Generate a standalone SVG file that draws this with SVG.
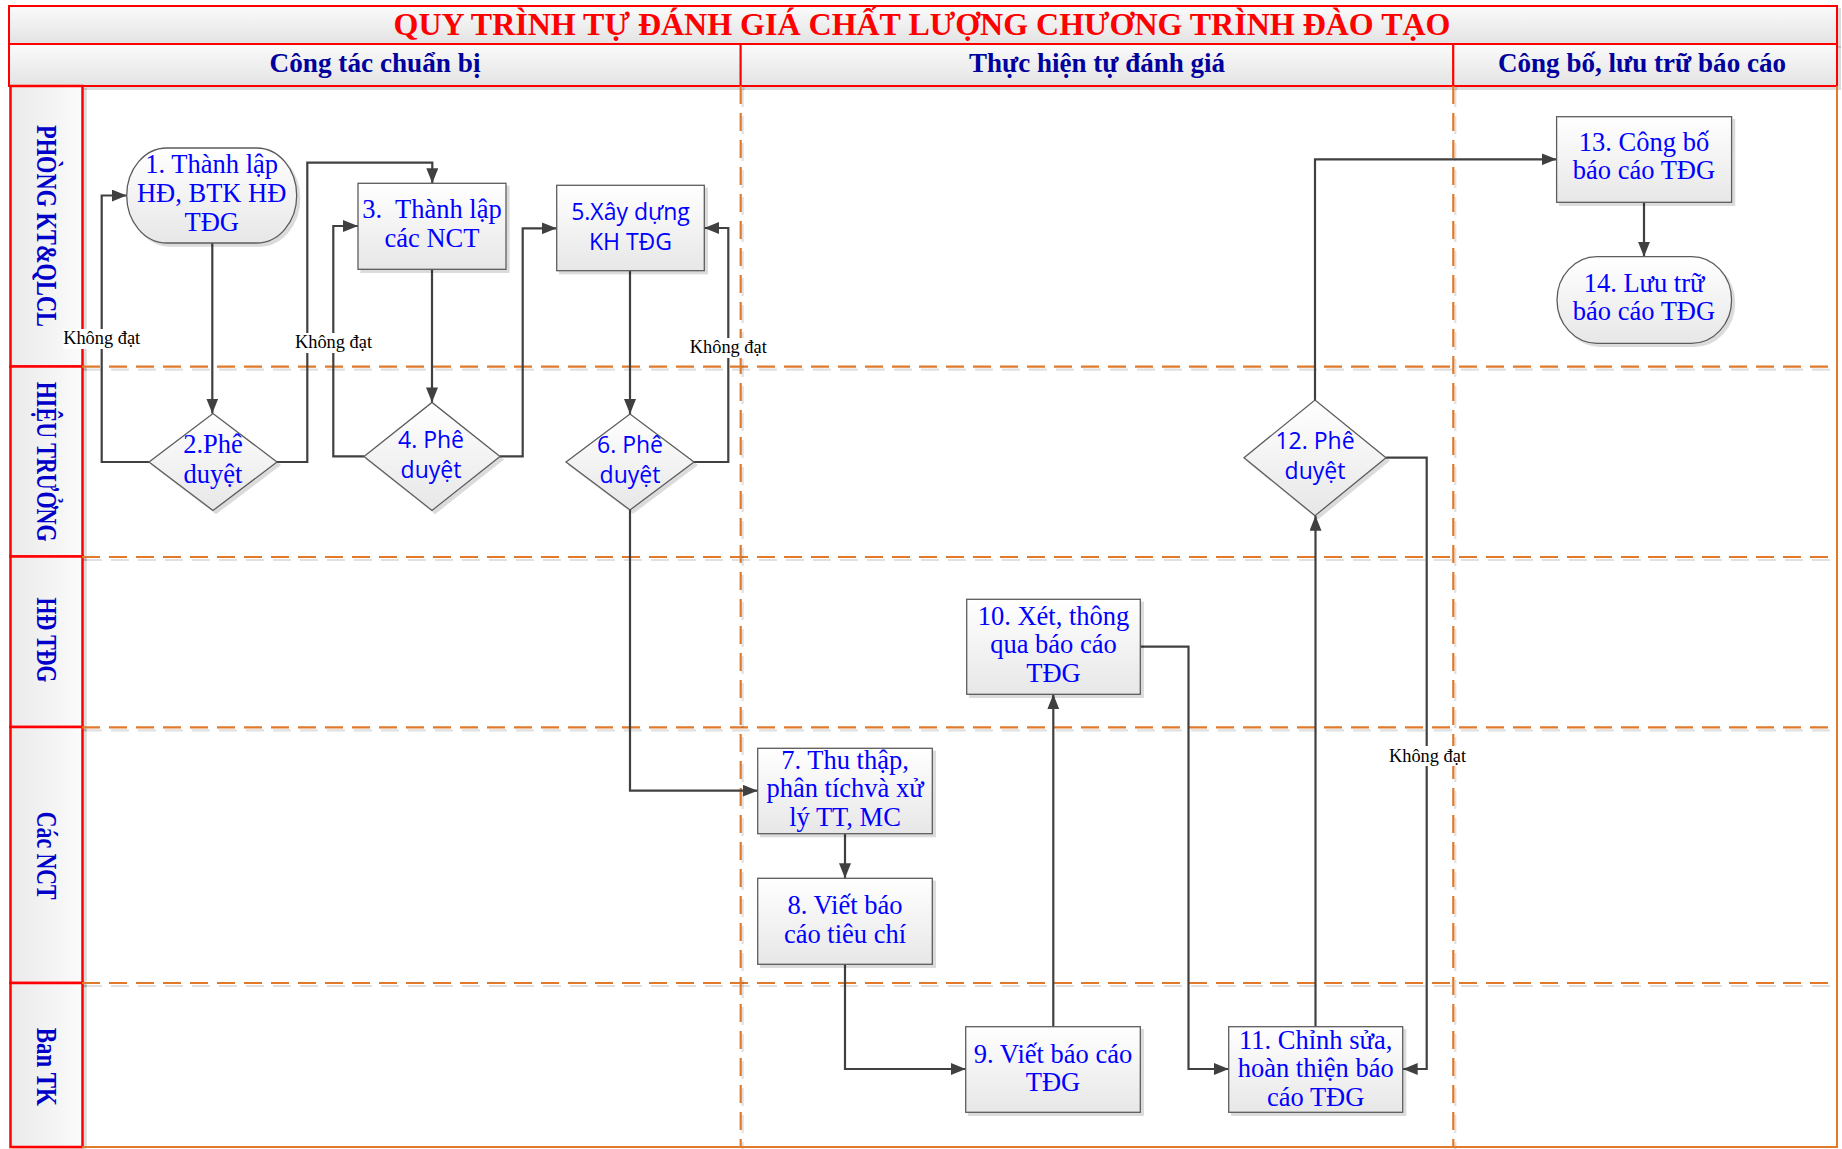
<svg xmlns="http://www.w3.org/2000/svg" width="1842" height="1149" viewBox="0 0 1842 1149">
<defs>
  <linearGradient id="gNode" x1="0" y1="0" x2="0" y2="1"><stop offset="0" stop-color="#ffffff"/><stop offset="1" stop-color="#e7e7e7"/></linearGradient>
  <linearGradient id="gHead" x1="0" y1="0" x2="0" y2="1"><stop offset="0" stop-color="#fbfbfb"/><stop offset="1" stop-color="#e3e3e3"/></linearGradient>
  <linearGradient id="gLane" x1="0" y1="0" x2="1" y2="0"><stop offset="0" stop-color="#eaeaea"/><stop offset="1" stop-color="#fbfbfb"/></linearGradient>
  <filter id="sh" x="-10%" y="-10%" width="130%" height="130%">
    <feOffset in="SourceAlpha" dx="3" dy="3" result="o"/>
    <feFlood flood-color="#000" flood-opacity="0.14"/>
    <feComposite in2="o" operator="in"/>
    <feMerge><feMergeNode/><feMergeNode in="SourceGraphic"/></feMerge>
  </filter>
  <filter id="lsh" filterUnits="userSpaceOnUse" x="0" y="0" width="1842" height="1149">
    <feOffset in="SourceAlpha" dx="2" dy="3" result="o"/>
    <feFlood flood-color="#000" flood-opacity="0.12"/>
    <feComposite in2="o" operator="in"/>
    <feMerge><feMergeNode/><feMergeNode in="SourceGraphic"/></feMerge>
  </filter>
  <marker id="ah" viewBox="0 0 15 12" refX="15" refY="6" markerWidth="15" markerHeight="12" markerUnits="userSpaceOnUse" orient="auto">
    <path d="M0,0 L15,6 L0,12 z" fill="#404040"/>
  </marker>
</defs>
<style>
  .t{font-family:"Liberation Serif","Times New Roman",serif;font-size:26.5px;fill:#0000ff;text-anchor:middle}
  .s{font-family:"Open Sans","Noto Sans",sans-serif;font-size:23px;fill:#0000ff;text-anchor:middle}
  .box{fill:url(#gNode);stroke:#5c5c5c;stroke-width:1.3;filter:url(#sh)}
  .conn{fill:none;stroke:#404040;stroke-width:2.2;marker-end:url(#ah)}
  .lbl{font-family:"Liberation Serif","Times New Roman",serif;font-size:18px;fill:#000;text-anchor:middle}
  .lblbg{fill:#ffffff}
  .dash{stroke:#e07a2c;stroke-width:2.2;stroke-dasharray:18 9;fill:none;filter:url(#lsh)}
  .frame{stroke:#e07a2c;stroke-width:2;fill:none}
  .cell{fill:url(#gHead);stroke:#ff0000;stroke-width:2;filter:url(#sh)}
  .lanebox{fill:url(#gLane);stroke:#ff0000;stroke-width:2.5;filter:url(#sh)}
  .ttl{font-family:"Liberation Serif","Times New Roman",serif;font-weight:bold;font-size:31px;fill:#ff0000;text-anchor:middle}
  .hd{font-family:"Liberation Serif","Times New Roman",serif;font-weight:bold;font-size:27px;fill:#00009c;text-anchor:middle}
  .ll{font-family:"Liberation Serif","Times New Roman",serif;font-weight:bold;font-size:30px;fill:#0000c8;text-anchor:middle}
</style>
<rect x="0" y="0" width="1842" height="1149" fill="#ffffff"/>

<g id="header">
  <rect class="cell" x="9" y="6" width="1828" height="38"/>
  <text class="ttl" x="922" y="34.5" textLength="1057" lengthAdjust="spacingAndGlyphs">QUY TRÌNH TỰ ĐÁNH GIÁ CHẤT LƯỢNG CHƯƠNG TRÌNH ĐÀO TẠO</text>
  <rect class="cell" x="9" y="44" width="731.7" height="42"/>
  <rect class="cell" x="740.7" y="44" width="712.6" height="42"/>
  <rect class="cell" x="1453.3" y="44" width="383.7" height="42"/>
  <text class="hd" x="375" y="72" textLength="211" lengthAdjust="spacingAndGlyphs">Công tác chuẩn bị</text>
  <text class="hd" x="1097" y="72" textLength="256" lengthAdjust="spacingAndGlyphs">Thực hiện tự đánh giá</text>
  <text class="hd" x="1642" y="72" textLength="288" lengthAdjust="spacingAndGlyphs">Công bố, lưu trữ báo cáo</text>
</g>

<g id="lanes">
  <rect class="lanebox" x="10.5" y="86" width="72" height="280.5"/>
  <rect class="lanebox" x="10.5" y="366.5" width="72" height="190"/>
  <rect class="lanebox" x="10.5" y="556.5" width="72" height="170.5"/>
  <rect class="lanebox" x="10.5" y="727" width="72" height="256"/>
  <rect class="lanebox" x="10.5" y="983" width="72" height="164"/>
  <text class="ll" x="37" y="226" transform="rotate(90 37 226)" textLength="202" lengthAdjust="spacingAndGlyphs">PHÒNG KT&amp;QLCL</text>
  <text class="ll" x="37" y="461.7" transform="rotate(90 37 461.7)" textLength="160" lengthAdjust="spacingAndGlyphs">HIỆU TRƯỞNG</text>
  <text class="ll" x="37" y="640" transform="rotate(90 37 640)" textLength="85" lengthAdjust="spacingAndGlyphs">HĐ TĐG</text>
  <text class="ll" x="37" y="855.7" transform="rotate(90 37 855.7)" textLength="88" lengthAdjust="spacingAndGlyphs">Các NCT</text>
  <text class="ll" x="37" y="1066.8" transform="rotate(90 37 1066.8)" textLength="78" lengthAdjust="spacingAndGlyphs">Ban TK</text>
  <path class="dash" d="M82,366.7 H1837 M82,557 H1837 M82,727.3 H1837 M82,983 H1837"/>
  <path class="dash" d="M740.7,86 V1147 M1453.3,86 V1147"/>
  <path class="frame" d="M82,1147 H1837 V86"/>
</g>

<g id="connectors">
  <path class="conn" d="M212.3,243 V413.5"/>
  <path class="conn" d="M149,462 H101.7 V195.5 H126.7"/>
  <path class="conn" d="M277,462 H307.3 V162.7 H432.3 V183.3"/>
  <path class="conn" d="M432,269.3 V402.4"/>
  <path class="conn" d="M364,456.4 H333.3 V226 H358"/>
  <path class="conn" d="M500,456.4 H522.7 V228.3 H556.7"/>
  <path class="conn" d="M630,270.7 V414"/>
  <path class="conn" d="M694,462 H728.3 V228 H704.3"/>
  <path class="conn" d="M630,510 V790.7 H757.7"/>
  <path class="conn" d="M845,833.7 V878.3"/>
  <path class="conn" d="M845,964.3 V1069 H965.7"/>
  <path class="conn" d="M1053.3,1026.7 V694.3"/>
  <path class="conn" d="M1140.3,646.7 H1188.5 V1069 H1228.7"/>
  <path class="conn" d="M1315.5,1026.7 V515.7"/>
  <path class="conn" d="M1386,457.7 H1426.7 V1069 H1402.7"/>
  <path class="conn" d="M1315,400 V159.3 H1556.6"/>
  <path class="conn" d="M1644,202.3 V256.7"/>
  <rect class="lblbg" x="63" y="329" width="77" height="20"/>
  <text class="lbl" x="101.7" y="344" textLength="77" lengthAdjust="spacingAndGlyphs">Không đạt</text>
  <rect class="lblbg" x="295" y="333" width="77" height="20"/>
  <text class="lbl" x="333.5" y="348.3" textLength="77" lengthAdjust="spacingAndGlyphs">Không đạt</text>
  <rect class="lblbg" x="690" y="338" width="77" height="20"/>
  <text class="lbl" x="728.3" y="353.3" textLength="77" lengthAdjust="spacingAndGlyphs">Không đạt</text>
  <rect class="lblbg" x="1389" y="746" width="77" height="20"/>
  <text class="lbl" x="1427.5" y="761.7" textLength="77" lengthAdjust="spacingAndGlyphs">Không đạt</text>
</g>

<g id="n1">
  <rect class="box" x="126.7" y="148" width="170" height="95" rx="40" ry="47.5"/>
  <text class="t" x="211.7" y="173">1. Thành lập</text>
  <text class="t" x="211.7" y="202">HĐ, BTK HĐ</text>
  <text class="t" x="211.7" y="230.5">TĐG</text>
</g>
<g id="n2">
  <polygon class="box" points="149,462 213,413.5 277,462 213,510.5"/>
  <text class="t" x="213" y="452.5">2.Phê</text>
  <text class="t" x="213" y="483">duyệt</text>
</g>
<g id="n3">
  <rect class="box" x="358" y="183.3" width="148" height="86"/>
  <text class="t" x="432" y="218" xml:space="preserve">3.  Thành lập</text>
  <text class="t" x="432" y="247">các NCT</text>
</g>
<g id="n4">
  <polygon class="box" points="364,456.4 432,402.4 500,456.4 432,510.4"/>
  <text class="s" x="431" y="447.5">4. Phê</text>
  <text class="s" x="431" y="478">duyệt</text>
</g>
<g id="n5">
  <rect class="box" x="556.7" y="185.3" width="147.6" height="85.4"/>
  <text class="s" x="630.5" y="219.5">5.Xây dựng</text>
  <text class="s" x="630.5" y="250">KH TĐG</text>
</g>
<g id="n6">
  <polygon class="box" points="566,462 630,414 694,462 630,510"/>
  <text class="s" x="630" y="452.5">6. Phê</text>
  <text class="s" x="630" y="483">duyệt</text>
</g>
<g id="n7">
  <rect class="box" x="757.7" y="748.3" width="174.6" height="85.4"/>
  <text class="t" x="845" y="769">7. Thu thập,</text>
  <text class="t" x="845" y="797.3">phân tíchvà xử</text>
  <text class="t" x="845" y="826.3">lý TT, MC</text>
</g>
<g id="n8">
  <rect class="box" x="757.7" y="878.3" width="174.6" height="86"/>
  <text class="t" x="845" y="914">8. Viết báo</text>
  <text class="t" x="845" y="943">cáo tiêu chí</text>
</g>
<g id="n9">
  <rect class="box" x="965.7" y="1026.7" width="174.6" height="85.6"/>
  <text class="t" x="1053" y="1063">9. Viết báo cáo</text>
  <text class="t" x="1053" y="1091">TĐG</text>
</g>
<g id="n10">
  <rect class="box" x="966.7" y="599.3" width="173.6" height="95"/>
  <text class="t" x="1053.5" y="625">10. Xét, thông</text>
  <text class="t" x="1053.5" y="653.3">qua báo cáo</text>
  <text class="t" x="1053.5" y="681.7">TĐG</text>
</g>
<g id="n11">
  <rect class="box" x="1228.7" y="1026.7" width="174" height="85.6"/>
  <text class="t" x="1315.7" y="1049">11. Chỉnh sửa,</text>
  <text class="t" x="1315.7" y="1077.3">hoàn thiện báo</text>
  <text class="t" x="1315.7" y="1105.7">cáo TĐG</text>
</g>
<g id="n12">
  <polygon class="box" points="1244,457.7 1315,400 1386,457.7 1315,515.7"/>
  <text class="s" x="1315" y="448.5">12. Phê</text>
  <text class="s" x="1315" y="479">duyệt</text>
</g>
<g id="n13">
  <rect class="box" x="1556.6" y="116.7" width="175" height="85.6"/>
  <text class="t" x="1644" y="150.7">13. Công bố</text>
  <text class="t" x="1644" y="179.3">báo cáo TĐG</text>
</g>
<g id="n14">
  <rect class="box" x="1557" y="256.7" width="174.6" height="86.6" rx="40" ry="43.3"/>
  <text class="t" x="1644" y="291.7">14. Lưu trữ</text>
  <text class="t" x="1644" y="320">báo cáo TĐG</text>
</g>
</svg>
